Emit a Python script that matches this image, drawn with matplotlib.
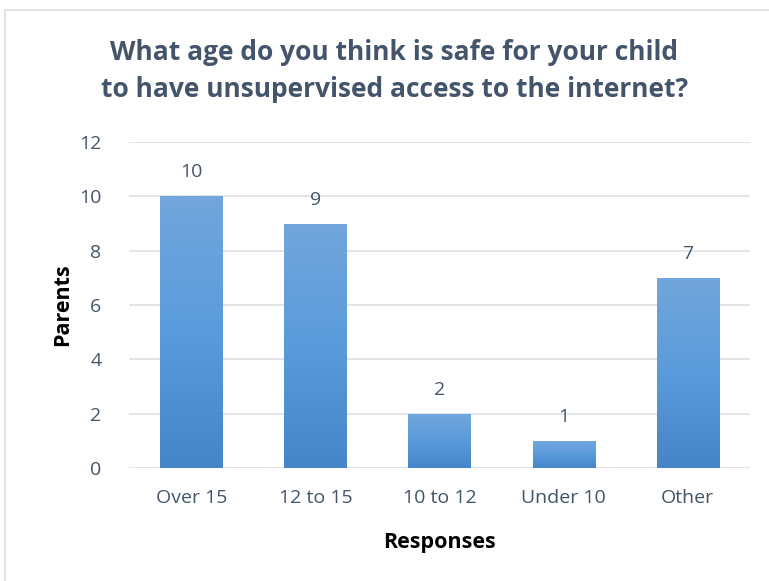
import numpy as np
import matplotlib.pyplot as plt
from matplotlib.patches import Rectangle
from matplotlib.colors import LinearSegmentedColormap

# dados do gráfico
categorias = ["Over 15", "12 to 15", "10 to 12", "Under 10", "Other"]
valores = [10, 9, 2, 1, 7]
y_ticks = [0, 2, 4, 6, 8, 10, 12]

plt.rcParams['font.family'] = ['Open Sans', 'DejaVu Sans']
cor_texto = "#44546A"

fig = plt.figure(figsize=(7.69, 5.81), dpi=100)
fig.patches.append(Rectangle((5 / 769, -0.05), 1.0, 1 - 10 / 581 + 0.05,
                             transform=fig.transFigure, fill=False,
                             edgecolor="#D9DDE3", linewidth=1.2))
ax = fig.add_axes([0.168, 0.1945, 0.807, 0.561])

x = np.arange(len(categorias))
barras = ax.bar(x, valores, width=0.5, color="none", zorder=2)

# degradê das barras (claro em cima, escuro embaixo)
grad = np.linspace(0, 1, 256).reshape(-1, 1)
cmap = LinearSegmentedColormap.from_list("g", ["#4585C8", "#5A9BDB", "#72A6DC"])
for b in barras:
    x0, w, h = b.get_x(), b.get_width(), b.get_height()
    im = ax.imshow(grad, cmap=cmap, aspect="auto", origin="lower",
                   extent=[x0, x0 + w, 0, h], zorder=2)
    im.set_clip_path(b)
    ax.text(x0 + w / 2, h + 0.55, str(int(h)), ha="center", va="bottom",
            fontsize=14, color=cor_texto)

ax.set_xlim(-0.5, len(categorias) - 0.5)
ax.set_ylim(0, 12)
ax.set_yticks(y_ticks)
ax.set_xticks(x)
ax.set_xticklabels(categorias)
ax.tick_params(length=0, labelsize=14, colors=cor_texto)
ax.tick_params(axis="y", pad=20)
ax.tick_params(axis="x", pad=15)
ax.grid(axis="y", color="#DDE1E6", linewidth=1.2, zorder=0)
ax.set_axisbelow(True)
for s in ax.spines.values():
    s.set_visible(False)

ax.set_ylabel("Parents", fontsize=15.5, fontweight="bold", color="black", labelpad=4)
ax.set_xlabel("Responses", fontsize=15.5, fontweight="bold", color="black", labelpad=18)

fig.text(0.513, 0.878, "What age do you think is safe for your child\nto have unsupervised access to the internet?",
         ha="center", va="center", fontsize=19, fontweight="bold", color=cor_texto,
         linespacing=1.5)

fig.savefig("out.png", dpi=100)
